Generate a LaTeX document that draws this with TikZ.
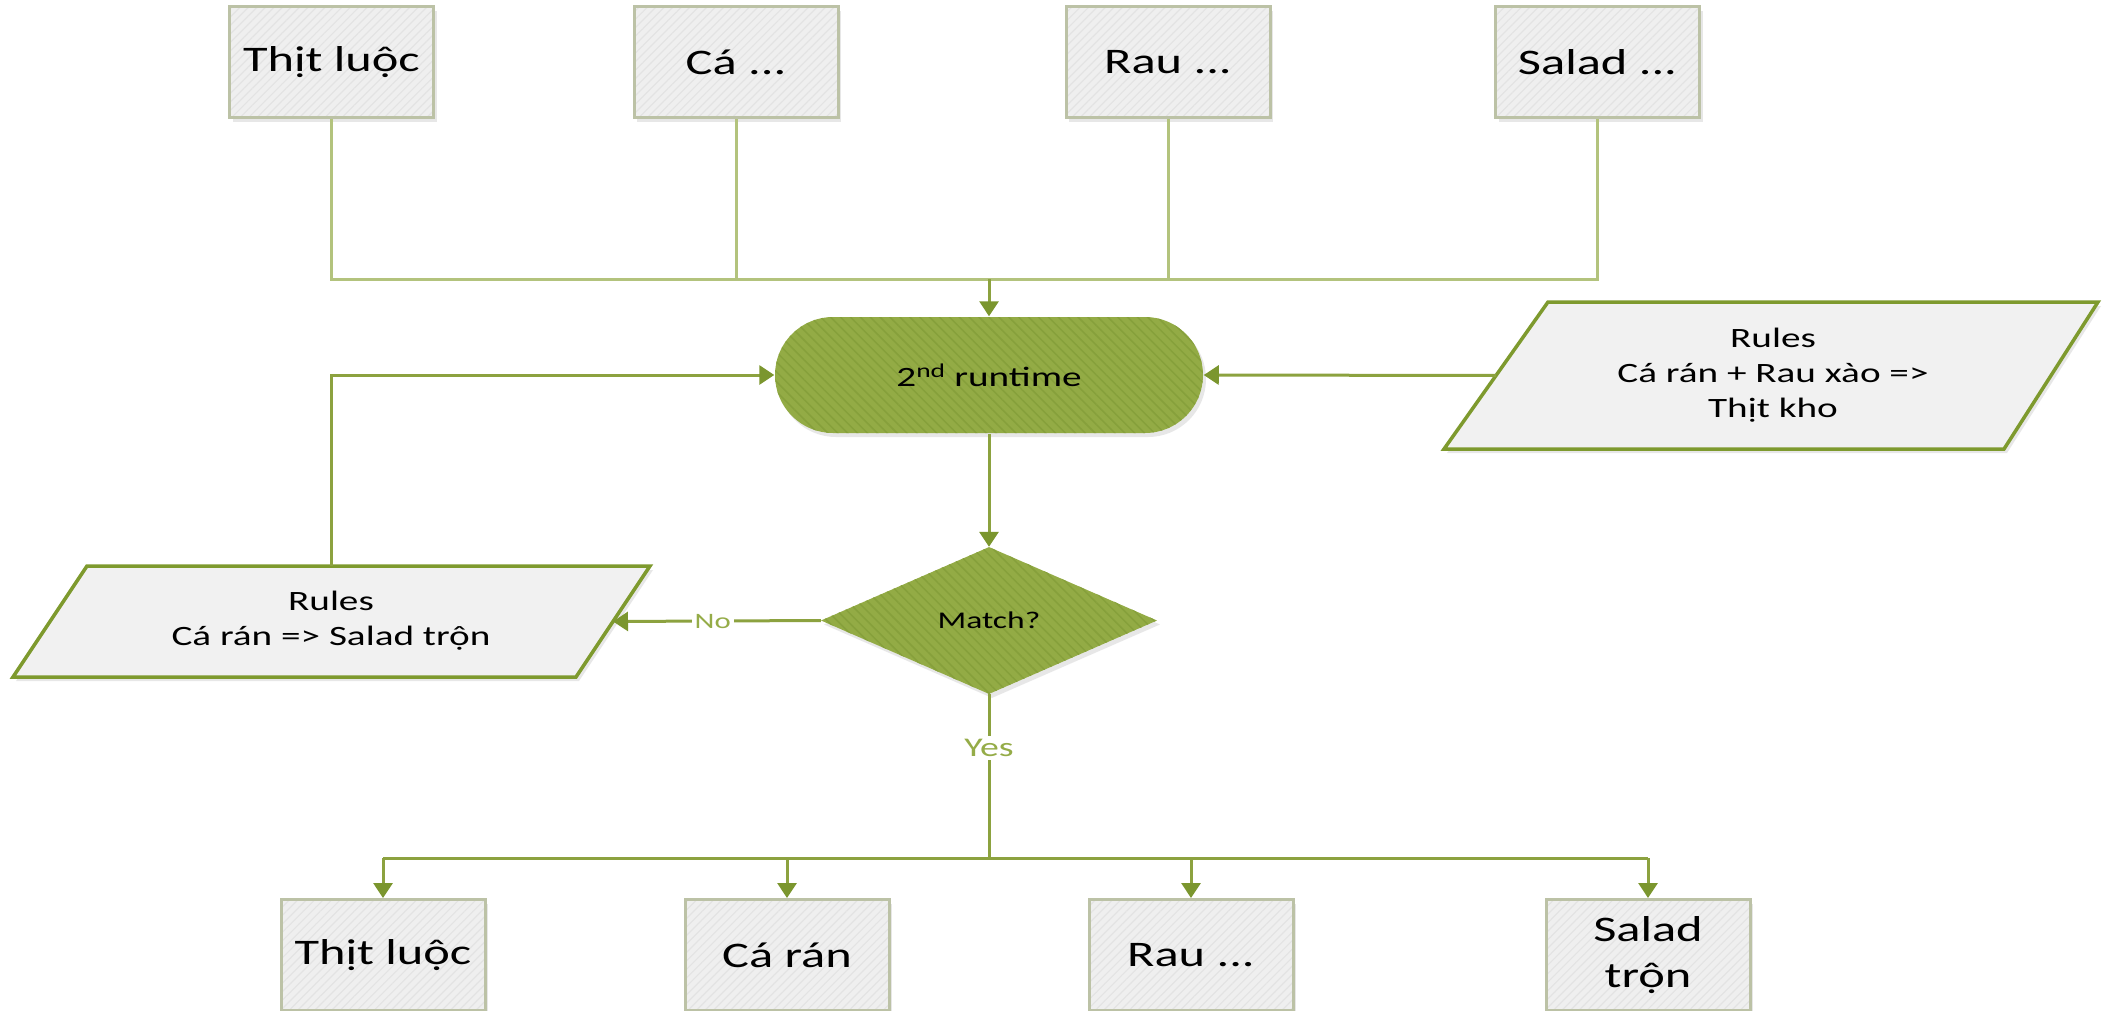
\documentclass[tikz,border=0pt]{standalone}
\usepackage{fontspec}
\setmainfont{Carlito}[FakeStretch=1.4]
\usetikzlibrary{arrows.meta,shapes.misc,shapes.geometric,patterns.meta,shadows,calc}

\definecolor{boxfill}{HTML}{EFEFEF}
\definecolor{boxstripe}{HTML}{E3E3E3}
\definecolor{boxedge}{HTML}{BCC2A6}
\definecolor{olivefill}{HTML}{93AB45}
\definecolor{olivestripe}{HTML}{86A03B}
\definecolor{paraedge}{HTML}{7E9A2E}
\definecolor{parafill}{HTML}{F1F1F1}
\definecolor{linelight}{HTML}{B3C37D}
\definecolor{linedark}{HTML}{8CA23F}
\definecolor{tipcol}{HTML}{7B962E}
\definecolor{labelcol}{HTML}{95AC48}

\tikzset{
  softshadow/.style={drop shadow={shadow xshift=3pt, shadow yshift=-4pt, fill=black!18}},
  dish/.style={rectangle, draw=boxedge, line width=3pt, inner sep=0pt,
    minimum width=204pt, minimum height=111pt, align=center,
    font=\fontsize{36}{46}\selectfont, softshadow,
    preaction={fill=boxfill},
    pattern={Lines[angle=45, distance=6pt, line width=1.2pt]}, pattern color=boxstripe},
  greenshape/.style={softshadow, preaction={fill=olivefill},
    pattern={Lines[angle=-45, distance=7pt, line width=1.5pt]}, pattern color=olivestripe},
  runbox/.style={rounded rectangle, greenshape, inner sep=0pt,
    minimum width=428pt, minimum height=116pt, font=\fontsize{28}{34}\selectfont},
  decide/.style={diamond, greenshape, inner sep=0pt, aspect=2.286,
    minimum width=336pt, minimum height=147pt, font=\fontsize{24}{29}\selectfont},
  ruleshape/.style={draw=paraedge, line width=3.5pt, fill=parafill, line join=miter, softshadow},
  ruletext/.style={align=center, font=\fontsize{28}{35}\selectfont},
  feedline/.style={draw=linelight, line width=3pt},
  flowline/.style={draw=linedark, line width=3pt},
  flowarrow/.style={flowline, -{Triangle[width=19pt, length=15pt, color=tipcol]}},
  branchlabel/.style={fill=white, text=labelcol, inner sep=3pt}
}

\begin{document}
\begin{tikzpicture}[x=1pt, y=-1pt]
  \fill[white] (0,0) rectangle (2102,1011);
  \useasboundingbox (0,0) rectangle (2102,1011);

  % incoming dishes
  \node[dish] (t1) at (331.5,62.5) {Thịt luộc};
  \node[dish] (t2) at (736,62.5) {Cá ...};
  \node[dish] (t3) at (1168,62.5) {Rau ...};
  \node[dish] (t4) at (1597.5,62.5) {Salad ...};

  % engine and decision
  \node[runbox] (run) at (989,375) {2\textsuperscript{nd} runtime};
  \node[decide] (match) at (989,620.5) {Match?};

  % rule sets
  \coordinate (pr-tl) at (1548,302);
  \coordinate (pr-tr) at (2098,302);
  \coordinate (pr-br) at (2004,449);
  \coordinate (pr-bl) at (1444,449);
  \draw[ruleshape] (pr-tl) -- (pr-tr) -- (pr-br) -- (pr-bl) -- cycle;
  \node[ruletext] (rulesR) at (1773,375) {Rules\\Cá rán + Rau xào =>\\Thịt kho};
  \coordinate (pr-w) at ($(pr-tl)!0.5!(pr-bl)$);

  \coordinate (pl-tl) at (87,566);
  \coordinate (pl-tr) at (650,566);
  \coordinate (pl-br) at (576,677);
  \coordinate (pl-bl) at (13,677);
  \draw[ruleshape] (pl-tl) -- (pl-tr) -- (pl-br) -- (pl-bl) -- cycle;
  \node[ruletext] (rulesL) at (331,621) {Rules\\Cá rán => Salad trộn};
  \coordinate (pl-e) at ($(pl-tr)!0.5!(pl-br)$);
  \coordinate (pl-n) at (rulesL |- pl-tl);

  % outgoing dishes
  \node[dish] (b1) at (383,955) {Thịt luộc};
  \node[dish] (b2) at (787,955) {Cá rán};
  \node[dish] (b3) at (1191,955) {Rau ...};
  \node[dish] (b4) at (1648,955) {Salad\\trộn};

  % collecting bus above the runtime
  \coordinate (topbus) at (989,279);
  \draw[feedline] (t1.south) |- (t4.south |- topbus) -- (t4.south);
  \draw[feedline] (t2.south) -- (t2.south |- topbus);
  \draw[feedline] (t3.south) -- (t3.south |- topbus);
  \draw[flowarrow] (topbus) -- (run.north);

  % rules feeding the runtime
  \draw[flowarrow] (pr-w) -- (run.east);
  \draw[flowarrow] (pl-n) |- (run.west);
  \draw[flowarrow] (run.south) -- (match.north);

  % decision branches
  \draw[flowarrow] (match.west) -- (pl-e)
    node[branchlabel, pos=0.52, font=\fontsize{22}{26}\selectfont] (nolabel) {No};
  \coordinate (botbus) at (989,858);
  \draw[flowline] (match.south) -- (botbus)
    node[branchlabel, pos=0.33, font=\fontsize{27}{32}\selectfont] (yeslabel) {Yes};
  \draw[flowline] (b1.north |- botbus) -- (b4.north |- botbus);
  \draw[flowarrow] (b1.north |- botbus) -- (b1.north);
  \draw[flowarrow] (b2.north |- botbus) -- (b2.north);
  \draw[flowarrow] (b3.north |- botbus) -- (b3.north);
  \draw[flowarrow] (b4.north |- botbus) -- (b4.north);
\end{tikzpicture}
\end{document}
